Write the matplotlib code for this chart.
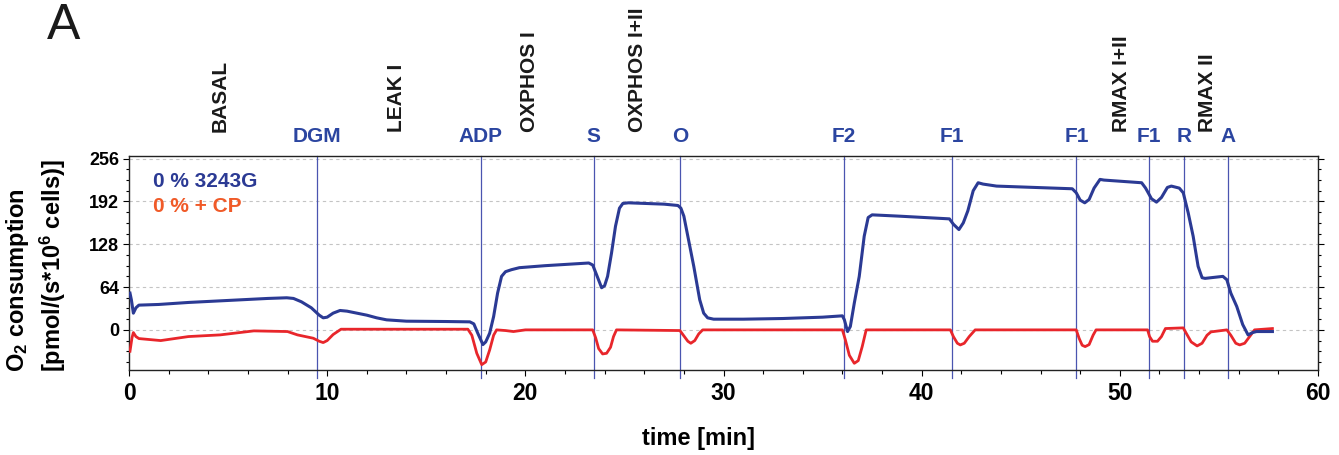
import matplotlib
matplotlib.use("Agg")
import matplotlib.pyplot as plt
from matplotlib.ticker import MultipleLocator, FixedLocator
import matplotlib.transforms as mtransforms

plt.rcParams['font.family'] = ['Liberation Sans', 'DejaVu Sans']
plt.rcParams['font.weight'] = 'bold'
plt.rcParams['mathtext.fontset'] = 'custom'
plt.rcParams['mathtext.rm'] = 'Liberation Sans:bold'
plt.rcParams['mathtext.bf'] = 'Liberation Sans:bold'
plt.rcParams['mathtext.it'] = 'Liberation Sans:bold:italic'

# ---- data ----
blue_t = [0.05, 0.12, 0.22, 0.35, 0.5, 1.5, 3, 5, 7, 7.96, 8.3, 8.7, 9.2, 9.6, 9.8, 10.0, 10.3,
          10.65, 11.0, 11.5, 12.0, 12.5, 13.0, 14, 16, 17.2, 17.4, 17.6, 17.86, 18.0, 18.2, 18.4,
          18.6, 18.8, 19.0, 19.3, 19.7, 21, 23.2, 23.4, 23.6, 23.85, 24.0, 24.15, 24.35, 24.55,
          24.75, 24.92, 25.2, 27.0, 27.7, 27.85, 28.0, 28.2, 28.5, 28.8, 29.0, 29.2, 29.5, 31,
          33, 35, 36.0, 36.1, 36.26, 36.4, 36.6, 36.85, 37.1, 37.3, 37.5, 38.9, 41.4, 41.6,
          41.88, 42.1, 42.33, 42.6, 42.85, 43.1, 43.78, 47.6, 47.8, 48.0, 48.23, 48.45, 48.7,
          49.0, 49.2, 51.1, 51.3, 51.6, 51.85, 52.1, 52.4, 52.6, 53.0, 53.2, 53.45, 53.7, 53.95,
          54.15, 54.3, 55.2, 55.4, 55.6, 55.9, 56.2, 56.47, 56.7, 56.9, 57.7]
blue_v = [55, 45, 25, 33, 37, 38, 41, 44, 47, 48, 47, 42, 33, 22, 18, 19, 25,
          29, 28, 25, 22, 18, 15, 13, 12.5, 12, 9, -5, -22, -18, -5, 20,
          55, 80, 87, 90, 93, 96, 100, 97, 82, 63, 66, 80, 115, 155,
          182, 189, 190, 188, 186, 182, 170, 140, 95, 45, 25, 18, 16, 16,
          17, 19, 21, 15, -2.5, 5, 40, 80, 140, 168, 172, 170, 166, 158,
          150, 160, 178, 208, 220, 218, 215, 211, 205, 194, 190, 195, 212,
          225, 224, 220, 212, 196, 191, 198, 213, 215, 212, 205, 175, 140, 95,
          78, 77, 80, 75, 55, 35, 8, -7.5, -4, -2.5, -2.5]

red_t = [0.05, 0.15, 0.22, 0.35, 0.5, 1.6, 3.0, 4.6, 6.3, 8.0, 8.5, 9.3, 9.6, 9.8, 10.0, 10.3,
         10.7, 14, 17.1, 17.3, 17.55, 17.8, 18.0, 18.2, 18.4, 18.55, 19.0, 19.4, 20.0, 23.4,
         23.55, 23.7, 23.9, 24.1, 24.3, 24.45, 24.6, 27.8, 28.0, 28.2, 28.35, 28.55, 28.75,
         28.95, 36.0, 36.15, 36.35, 36.6, 36.8, 37.0, 37.2, 41.45, 41.6, 41.8, 41.95, 42.15,
         42.4, 42.7, 47.8, 47.95, 48.1, 48.25, 48.45, 48.65, 48.8, 51.4, 51.5, 51.65, 51.9,
         52.1, 52.3, 53.2, 53.35, 53.6, 53.9, 54.15, 54.4, 54.6, 55.4, 55.6, 55.85, 56.05,
         56.3, 56.55, 56.8, 57.7]
red_v = [-32, -12, -4, -10, -13, -16, -10, -7.5, -1.5, -2.5, -7.5, -12.5, -17, -19, -16, -7,
         1, 1, 1, -8, -35, -52, -48, -30, -8, 0, -1, -2.5, 0, 0,
         -12, -28, -36, -35, -26, -10, 0, -1, -9, -17, -20, -16, -6,
         0, 0, -15, -38, -50, -46, -25, 0, 0, -10, -20, -22.5, -20,
         -10, 0, 0, -13, -23, -25, -22, -8, 0, 0, -10, -17, -17,
         -10, 2, 3, -5, -18, -24, -20, -8, -3, 0, -8, -20, -22.5,
         -20, -10, 0, 2]

event_t = [9.49, 17.76, 23.46, 27.8, 36.07, 41.51, 47.81, 51.45, 53.24, 55.48]
event_lbl = ['DGM', 'ADP', 'S', 'O', 'F2', 'F1', 'F1', 'F1', 'R', 'A']

state_t = [4.59, 13.52, 20.23, 25.68, 50.07, 54.41]
state_lbl = ['BASAL', 'LEAK I', 'OXPHOS I', 'OXPHOS I+II', 'RMAX I+II', 'RMAX II']

yticks = [0, 64, 128, 192, 256]
xticks = [0, 10, 20, 30, 40, 50, 60]

blue_c = '#2b3a94'
red_c = '#e8262b'
lbl_blue = '#2b45a0'
leg_red = '#f05a28'
ev_c = '#4a55b0'

W, H = 1339, 455
fig = plt.figure(figsize=(W / 100, H / 100), dpi=100)
ax = fig.add_axes([129 / W, (H - 370) / H, (1318 - 129) / W, (370 - 156) / H])

ax.set_xlim(0, 60)
ax.set_ylim(-60, 260)

ax.yaxis.set_major_locator(FixedLocator(yticks))
ax.yaxis.set_minor_locator(MultipleLocator(16))
ax.xaxis.set_major_locator(FixedLocator(xticks))
ax.xaxis.set_minor_locator(MultipleLocator(2))

ax.yaxis.grid(True, which='major', linestyle=(0, (3, 3)), color='#c4c4c4', lw=0.8, zorder=0)
ax.set_axisbelow(True)

for t in event_t:
    ax.axvline(t, ymin=-0.037, ymax=1, color=ev_c, lw=0.9, clip_on=False, zorder=1)

ax.plot(red_t, red_v, color=red_c, lw=2, zorder=3, solid_joinstyle='round')
ax.plot(blue_t, blue_v, color=blue_c, lw=2.2, zorder=4, solid_joinstyle='round')

for s in ax.spines.values():
    s.set_linewidth(1.0)
    s.set_color('#222222')

ax.tick_params(axis='y', which='both', direction='out', left=True, right=True,
               labelright=False, labelsize=13, pad=3, width=0.8)
ax.tick_params(axis='y', which='major', length=4)
ax.tick_params(axis='y', which='minor', length=2.5)
ax.tick_params(axis='x', which='both', direction='out', bottom=True, top=False,
               labelsize=16.5, pad=5, width=0.8)
ax.tick_params(axis='x', which='major', length=4)
ax.tick_params(axis='x', which='minor', length=3)
for lab in ax.get_xticklabels() + ax.get_yticklabels():
    lab.set_fontweight('bold')

trans = mtransforms.blended_transform_factory(ax.transData, ax.transAxes)
for t, l in zip(event_t, event_lbl):
    ax.text(t, (370 - 141.5) / 214, l, transform=trans, ha='center', va='baseline',
            color=lbl_blue, fontsize=15, fontweight='bold')
for t, l in zip(state_t, state_lbl):
    ax.text(t, (370 - 131.5) / 214, l, transform=trans, ha='center', va='bottom',
            rotation=90, color='#1a1a1a', fontsize=15, fontweight='bold')

ax.text((153 - 129) / 1189, (370 - 187) / 214, '0 % 3243G', transform=ax.transAxes,
        color=blue_c, fontsize=15, fontweight='bold', va='baseline', ha='left')
ax.text((153 - 129) / 1189, (370 - 212) / 214, '0 % + CP', transform=ax.transAxes,
        color=leg_red, fontsize=15, fontweight='bold', va='baseline', ha='left')

fig.text(698 / W, 1 - 445 / H, 'time [min]', ha='center', va='baseline',
         fontsize=17, fontweight='bold')
fig.text(36 / W, 1 - 372 / H, 'O$_2$ consumption\n[pmol/(s*10$^6$ cells)]', rotation=90,
         ha='center', va='bottom', multialignment='left', fontsize=17, fontweight='bold',
         linespacing=1.3)
fig.text(47 / W, 1 - 39 / H, 'A', fontsize=36, fontweight='normal', ha='left', va='baseline',
         color='#1a1a1a')

fig.savefig('out.png', dpi=100)
